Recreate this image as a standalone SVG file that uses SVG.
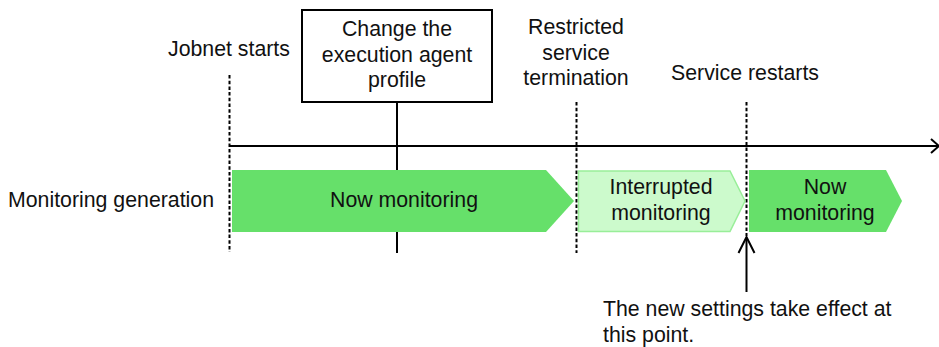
<svg xmlns="http://www.w3.org/2000/svg" width="939" height="347" viewBox="0 0 939 347">
<style>
text{font-family:"Liberation Sans",Arial,sans-serif;font-size:21.3px;fill:#111}
.c{text-anchor:middle}
.dash{stroke:#000;stroke-width:2;stroke-dasharray:3.5,2.2;fill:none}
.solid{stroke:#000;stroke-width:2;fill:none}
.g{fill:#66e06a}
.lg{fill:#ccfacc;stroke:#99ee99;stroke-width:1.5}
</style>
<g id="connectors">
<line class="solid" x1="230" y1="146" x2="940" y2="146"/>
<polyline class="solid" points="931,139 939,146 931,153"/>
<line class="dash" x1="229.5" y1="75" x2="229.5" y2="252"/>
<line class="dash" x1="576.5" y1="102" x2="576.5" y2="253"/>
<line class="dash" x1="746.5" y1="102" x2="746.5" y2="236"/>
<line class="solid" x1="397" y1="102" x2="397" y2="253"/>
<line class="solid" x1="746.5" y1="238" x2="746.5" y2="292"/>
<polyline class="solid" points="738.5,253 746.5,237 754.5,253"/>
</g>
<g id="node-change">
<rect x="302" y="10" width="190" height="92" fill="#fff" stroke="#000" stroke-width="2"/>
<text class="c" x="397" y="36">Change the</text>
<text class="c" x="397" y="62">execution agent</text>
<text class="c" x="397" y="87">profile</text>
</g>
<g id="label-jobnet"><text x="168" y="56">Jobnet starts</text></g>
<g id="label-restricted">
<text class="c" x="576" y="34">Restricted</text>
<text class="c" x="576" y="60">service</text>
<text class="c" x="576" y="85">termination</text>
</g>
<g id="label-restart"><text class="c" x="745" y="80">Service restarts</text></g>
<g id="label-generation"><text x="8" y="207">Monitoring generation</text></g>
<g id="bar-now1">
<polygon class="g" points="232,170 546,170 574,201 546,232 232,232"/>
<text class="c" x="404" y="207">Now monitoring</text>
</g>
<g id="bar-interrupted">
<polygon class="lg" points="578.5,171 730,171 745,201 730,231.5 578.5,231.5"/>
<text class="c" x="661" y="194">Interrupted</text>
<text class="c" x="661" y="220">monitoring</text>
</g>
<g id="bar-now2">
<polygon class="g" points="749,170 886,170 902,201 886,232 749,232"/>
<text class="c" x="825" y="194">Now</text>
<text class="c" x="825" y="220">monitoring</text>
</g>
<g id="label-effect">
<text x="603" y="316">The new settings take effect at</text>
<text x="603" y="342">this point.</text>
</g>
</svg>
